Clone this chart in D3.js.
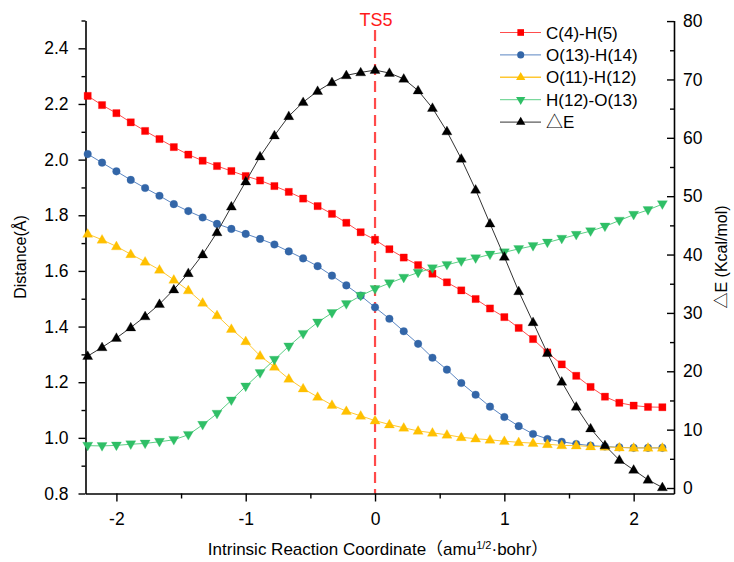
<!DOCTYPE html>
<html><head><meta charset="utf-8">
<script src="https://cdn.jsdelivr.net/npm/d3@7"></script>
<style>
body{margin:0;background:#fff}
svg{display:block}
text{font-family:"Liberation Sans",Arial,"Noto Sans CJK SC",sans-serif;fill:#000}
</style>
</head><body><svg id="c" width="734" height="562"></svg>
<script>
// ---- data ----
const irc = [-2.222,-2.111,-2.000,-1.889,-1.778,-1.667,-1.556,-1.444,-1.333,-1.222,
             -1.111,-1.000,-0.889,-0.778,-0.667,-0.556,-0.444,-0.333,-0.222,-0.111,
              0.000, 0.111, 0.222, 0.333, 0.444, 0.556, 0.667, 0.778, 0.889, 1.000,
              1.111, 1.222, 1.333, 1.444, 1.556, 1.667, 1.778, 1.889, 2.000, 2.111, 2.222];
const dCH = [2.229,2.196,2.167,2.134,2.103,2.074,2.045,2.018,1.996,1.977,
             1.959,1.941,1.925,1.905,1.884,1.860,1.833,1.805,1.773,1.739,
             1.712,1.678,1.648,1.621,1.590,1.559,1.530,1.499,1.465,1.434,
             1.395,1.355,1.307,1.264,1.223,1.183,1.148,1.126,1.116,1.111,1.110];
const dO13H14 = [2.020,1.989,1.958,1.927,1.898,1.870,1.840,1.815,1.792,1.769,
                 1.751,1.733,1.715,1.695,1.670,1.645,1.617,1.583,1.548,1.511,
                 1.469,1.428,1.383,1.338,1.288,1.245,1.197,1.155,1.112,1.075,
                 1.042,1.014,0.996,0.986,0.978,0.972,0.969,0.966,0.964,0.964,0.964];
const dO11H12 = [1.733,1.712,1.688,1.660,1.633,1.604,1.568,1.530,1.485,1.440,
                 1.391,1.347,1.295,1.255,1.212,1.177,1.147,1.118,1.096,1.079,
                 1.062,1.048,1.036,1.025,1.018,1.011,1.002,0.997,0.993,0.988,
                 0.984,0.981,0.977,0.973,0.972,0.969,0.968,0.965,0.964,0.964,0.964];
const dH12O13 = [0.972,0.971,0.973,0.977,0.980,0.986,0.993,1.011,1.047,1.087,
                 1.135,1.185,1.233,1.281,1.329,1.374,1.415,1.449,1.481,1.511,
                 1.535,1.556,1.576,1.594,1.610,1.622,1.635,1.646,1.659,1.667,
                 1.679,1.690,1.702,1.716,1.730,1.743,1.760,1.781,1.802,1.819,1.840];
const dE = [22.6,24.1,25.7,27.5,29.4,31.5,34.0,36.8,40.0,43.8,
            48.2,52.5,56.8,60.4,63.7,66.1,68.0,69.5,70.7,71.2,
            71.6,71.1,70.1,68.1,65.1,61.1,56.4,51.1,45.3,39.6,
            33.7,28.4,23.1,18.2,13.9,10.2,7.3,4.8,3.1,1.4,0.1];
const seriesNames = ["C(4)-H(5)","O(13)-H(14)","O(11)-H(12)","H(12)-O(13)","\u25B3E"];
const xTicks = [-2,-1,0,1,2];
const yLeftTicks = [0.8,1.0,1.2,1.4,1.6,1.8,2.0,2.2,2.4];
const yRightTicks = [0,10,20,30,40,50,60,70,80];
const tsX = 0, tsLabel = "TS5";

// ---- layout ----
const L = 85.5, R = 674, T = 20.5, B = 493.5;
const svg = d3.select("#c");
const x = d3.scaleLinear().domain([-2.239, 2.312]).range([L, R]);
const yL = d3.scaleLinear().domain([0.8, 2.5]).range([B, T]);
const yR = d3.scaleLinear().domain([-0.94, 80.1]).range([B, T]);

const styles = [
  {line:"#ff4d4d", fill:"#ff0000", sym:d3.symbolSquare, size:52, rot:0},
  {line:"#5b86c2", fill:"#3366a8", sym:d3.symbolCircle, size:46, rot:0},
  {line:"#ffc832", fill:"#ffc000", sym:d3.symbolTriangle, size:44, rot:0},
  {line:"#5ccf85", fill:"#2fbf66", sym:d3.symbolTriangle, size:44, rot:180},
  {line:"#333333", fill:"#000000", sym:d3.symbolTriangle, size:44, rot:0}
];
const data = [dCH, dO13H14, dO11H12, dH12O13, dE];
const yScales = [yL, yL, yL, yL, yR];

// dashed TS line
svg.append("line").attr("x1", x(tsX)).attr("x2", x(tsX)).attr("y1", 30).attr("y2", B)
  .attr("stroke", "#ff4a4a").attr("stroke-width", 2.2).attr("stroke-dasharray", "11,6");
svg.append("text").attr("x", x(tsX) + 1).attr("y", 26).attr("text-anchor", "middle")
  .style("font-size", "18px").style("fill", "#ff1a1a").text(tsLabel);

// axes
function styleAxis(g){
  g.select(".domain").attr("stroke", "#000").attr("stroke-width", 1.6);
  g.selectAll(".tick line").attr("stroke", "#000").attr("stroke-width", 1.4);
  g.selectAll(".tick text").style("font-size", "17.5px").style("font-family", '"Liberation Sans",Arial,sans-serif');
}
const plain = d => String(d);
// bottom
const gx = svg.append("g").attr("transform", `translate(0,${B})`)
  .call(d3.axisBottom(x).tickValues(xTicks).tickFormat(plain).tickSize(8).tickSizeOuter(0).tickPadding(11));
styleAxis(gx);
svg.append("g").attr("transform", `translate(0,${B})`)
  .call(d3.axisBottom(x).tickValues([-1.5,-0.5,0.5,1.5]).tickFormat("").tickSize(5).tickSizeOuter(0))
  .call(g => { g.select(".domain").remove(); g.selectAll(".tick line").attr("stroke", "#000").attr("stroke-width", 1.4); });
// left
const gl = svg.append("g").attr("transform", `translate(${L},0)`)
  .call(d3.axisLeft(yL).tickValues(yLeftTicks).tickFormat(d3.format(".1f")).tickSize(7).tickSizeOuter(0).tickPadding(10));
styleAxis(gl);
svg.append("g").attr("transform", `translate(${L},0)`)
  .call(d3.axisLeft(yL).tickValues([0.9,1.1,1.3,1.5,1.7,1.9,2.1,2.3,2.5]).tickFormat("").tickSize(4).tickSizeOuter(0))
  .call(g => { g.select(".domain").remove(); g.selectAll(".tick line").attr("stroke", "#000").attr("stroke-width", 1.4); });
// right (inward ticks)
const gr = svg.append("g").attr("transform", `translate(${R},0)`)
  .call(d3.axisRight(yR).tickValues(yRightTicks).tickFormat(plain).tickSize(-7).tickSizeOuter(0).tickPadding(9));
styleAxis(gr);
svg.append("g").attr("transform", `translate(${R},0)`)
  .call(d3.axisRight(yR).tickValues([5,15,25,35,45,55,65,75]).tickFormat("").tickSize(-4).tickSizeOuter(0))
  .call(g => { g.select(".domain").remove(); g.selectAll(".tick line").attr("stroke", "#000").attr("stroke-width", 1.4); });

// series
data.forEach((vals, si) => {
  const st = styles[si], ys = yScales[si];
  const line = d3.line().x((d, i) => x(irc[i])).y(d => ys(d));
  svg.append("path").datum(vals).attr("d", line).attr("fill", "none")
    .attr("stroke", st.line).attr("stroke-width", 1);
  const sym = d3.symbol().type(st.sym).size(st.size);
  svg.append("g").selectAll("path").data(vals).join("path")
    .attr("d", sym)
    .attr("transform", (d, i) => `translate(${x(irc[i])},${ys(d) + (st.sym === d3.symbolTriangle ? (st.rot ? -0.5 : 0.5) : 0)}) rotate(${st.rot})`)
    .attr("fill", st.fill).attr("stroke", st.fill).attr("stroke-opacity", 0.35).attr("stroke-width", 0.8);
});

// legend
const lg = svg.append("g");
seriesNames.forEach((name, i) => {
  const yy = 32.5 + i * 22.4, st = styles[i];
  lg.append("line").attr("x1", 500).attr("x2", 541).attr("y1", yy).attr("y2", yy)
    .attr("stroke", st.line).attr("stroke-width", i === 2 ? 1.6 : 1);
  lg.append("path").attr("d", d3.symbol().type(st.sym).size(st.size * 0.85)())
    .attr("transform", `translate(520.7,${yy}) rotate(${st.rot})`).attr("fill", st.fill);
  lg.append("text").attr("x", 546).attr("y", yy).attr("dy", "0.36em")
    .style("font-size", "17px").text(name);
});

// axis titles
svg.append("text").attr("transform", `translate(26,${(T + B) / 2}) rotate(-90)`)
  .attr("text-anchor", "middle").style("font-size", "16px").text("Distance(\u00C5)");
svg.append("text").attr("transform", `translate(727,${(T + B) / 2}) rotate(-90)`)
  .attr("text-anchor", "middle").style("font-size", "16px").text("\u25B3E (Kcal/mol)");
const xt = svg.append("text").attr("x", 378).attr("y", 555).attr("text-anchor", "middle").style("font-size", "17px");
xt.append("tspan").text("Intrinsic Reaction Coordinate\uFF08amu");
xt.append("tspan").attr("dy", -6).style("font-size", "11px").text("1/2");
xt.append("tspan").attr("dy", 6).text("\u00B7bohr\uFF09");
</script>
</body></html>
